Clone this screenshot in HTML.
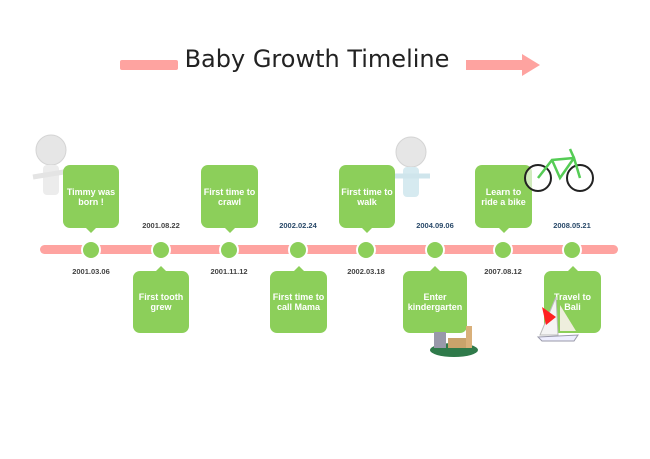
<!DOCTYPE html>
<html><head><style>
body{margin:0;width:650px;height:459px;background:#fff;position:relative;font-family:"Liberation Sans",sans-serif;overflow:hidden}
.b{position:absolute;background:#8ccf5a;border-radius:7px;color:#fff;font-weight:bold;font-size:9px;line-height:10px;display:flex;align-items:center;justify-content:center;text-align:center}
.b.t::after{content:"";position:absolute;left:50%;bottom:-5px;margin-left:-5px;border-left:5px solid transparent;border-right:5px solid transparent;border-top:5px solid #8ccf5a}
.b.u::after{content:"";position:absolute;left:50%;top:-5px;margin-left:-5px;border-left:5px solid transparent;border-right:5px solid transparent;border-bottom:5px solid #8ccf5a}
.d{position:absolute;font-size:7.5px;font-weight:bold;color:#444;width:60px;margin-left:-30px;text-align:center}
.c{position:absolute;width:16px;height:16px;border-radius:50%;background:#8ccf5a;border:2px solid #fff;margin-left:-10px;top:240px}
</style></head><body>
<div style="position:absolute;left:120px;top:60px;width:58px;height:10px;background:#fea3a0;border-radius:2px"></div>
<div style="position:absolute;left:466px;top:60px;width:58px;height:10px;background:#fea3a0"></div>
<div style="position:absolute;left:522px;top:54px;border-top:11px solid transparent;border-bottom:11px solid transparent;border-left:18px solid #fea3a0"></div>
<div style="position:absolute;left:150px;top:45px;width:334px;text-align:center;font-family:'Comic Sans MS','DejaVu Sans',sans-serif;font-size:24px;color:#222">Baby Growth Timeline</div>
<div style="position:absolute;left:40px;top:245px;width:578px;height:9px;border-radius:5px;background:#fea3a0"></div>
<div class="c" style="left:91px"></div><div class="c" style="left:161px"></div><div class="c" style="left:229px"></div><div class="c" style="left:298px"></div><div class="c" style="left:366px"></div><div class="c" style="left:435px"></div><div class="c" style="left:503px"></div><div class="c" style="left:572px"></div>
<svg style="position:absolute;left:30px;top:133px" width="45" height="65"><circle cx="21" cy="17" r="15" fill="#e6e6e6" stroke="#d4d4d4"/><rect x="13" y="32" width="16" height="30" rx="4" fill="#ececec"/><path d="M3 44 L40 38" stroke="#e4e4e4" stroke-width="5"/></svg>
<svg style="position:absolute;left:390px;top:135px" width="45" height="65"><circle cx="21" cy="17" r="15" fill="#e6e6e6" stroke="#d4d4d4"/><rect x="13" y="32" width="16" height="30" rx="4" fill="#d6eaf0"/><path d="M3 41 L40 41" stroke="#cfe5ec" stroke-width="5"/></svg>
<div class="b t" style="left:63px;top:165px;width:56px;height:63px">Timmy was<br>born !</div>
<div class="b t" style="left:201px;top:165px;width:57px;height:63px">First time to<br>crawl</div>
<div class="b t" style="left:339px;top:165px;width:56px;height:63px">First time to<br>walk</div>
<div class="b t" style="left:475px;top:165px;width:57px;height:63px">Learn to<br>ride a bike</div>
<div class="b u" style="left:133px;top:271px;width:56px;height:62px">First tooth<br>grew</div>
<div class="b u" style="left:270px;top:271px;width:57px;height:62px">First time to<br>call Mama</div>
<div class="b u" style="left:403px;top:271px;width:64px;height:62px">Enter<br>kindergarten</div>
<div class="b u" style="left:544px;top:271px;width:57px;height:62px">Travel to<br>Bali</div>
<svg style="position:absolute;left:522px;top:146px" width="75" height="48"><circle cx="16" cy="32" r="13" fill="#fff" fill-opacity="0.6" stroke="#222" stroke-width="2"/><circle cx="58" cy="32" r="13" fill="#fff" fill-opacity="0.6" stroke="#222" stroke-width="2"/><path d="M16 32 L30 14 L52 12 L58 32 M30 14 L38 32 L52 12 M48 3 L52 12" stroke="#5c5" stroke-width="2.5" fill="none"/></svg>
<svg style="position:absolute;left:428px;top:322px" width="52" height="36"><ellipse cx="26" cy="28" rx="24" ry="7" fill="#2f7a4a"/><rect x="6" y="10" width="12" height="16" fill="#99a"/><rect x="20" y="16" width="18" height="10" fill="#c9a36b"/><rect x="38" y="4" width="6" height="22" fill="#d9b07a"/></svg>
<svg style="position:absolute;left:536px;top:295px" width="45" height="50"><path d="M20 2 L22 40 L4 40 Z" fill="#f4f4f4" stroke="#bbb"/><path d="M6 12 L20 22 L10 30 Z" fill="#f22"/><path d="M24 10 L40 36 L24 36 Z" fill="#eed"/><path d="M2 42 L42 40 L38 46 L6 46 Z" fill="#eef" stroke="#99a"/></svg>
<div class="d" style="left:161px;top:221px">2001.08.22</div>
<div class="d" style="left:298px;top:221px;color:#2a4a6a">2002.02.24</div>
<div class="d" style="left:435px;top:221px;color:#2a4a6a">2004.09.06</div>
<div class="d" style="left:572px;top:221px;color:#2a4a6a">2008.05.21</div>
<div class="d" style="left:91px;top:267px">2001.03.06</div>
<div class="d" style="left:229px;top:267px">2001.11.12</div>
<div class="d" style="left:366px;top:267px">2002.03.18</div>
<div class="d" style="left:503px;top:267px">2007.08.12</div>
</body></html>
